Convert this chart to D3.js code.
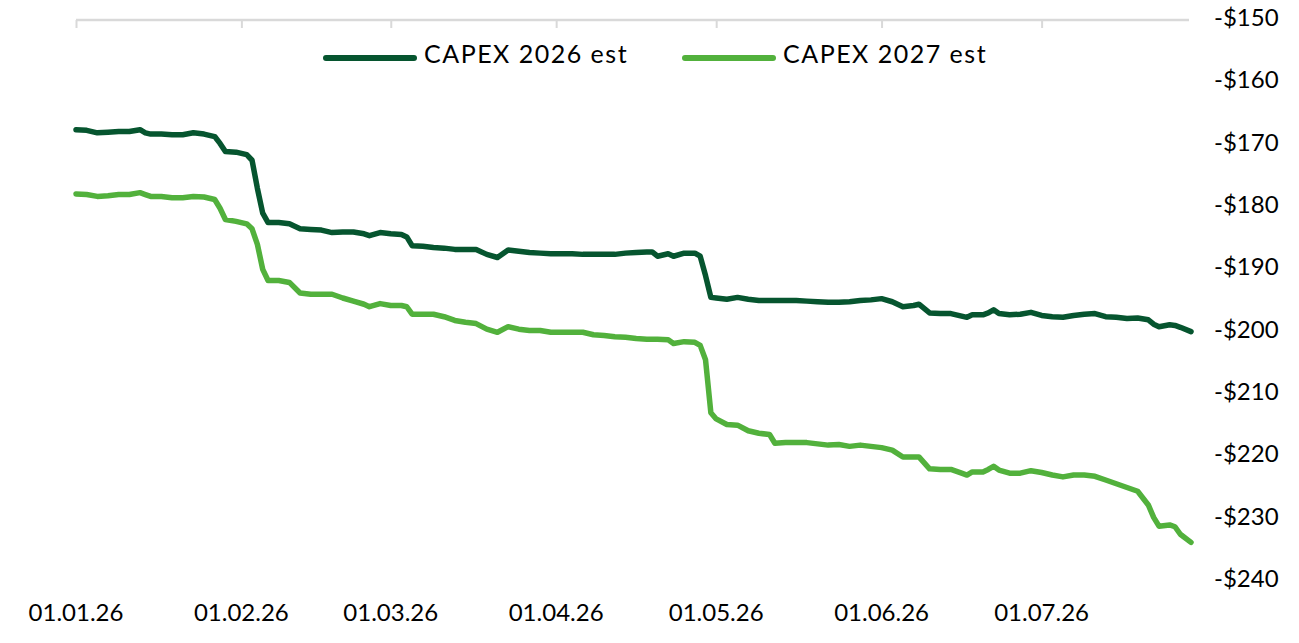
<!DOCTYPE html>
<html>
<head>
<meta charset="utf-8">
<script src="https://cdn.jsdelivr.net/npm/d3@7"></script>
<style>
  html, body { margin: 0; padding: 0; background: #ffffff; }
  svg text { font-family: Lato, "Open Sans", sans-serif; fill: #000000; }
</style>
</head>
<body>
<div id="vis"></div>
<script>
// Dates of the readings (2026, day.month)
const DATES = ["01-01","01-03","01-05","01-07","01-09","01-11","01-13","01-14","01-15","01-17",
  "01-19","01-21","01-23","01-25","01-27","01-28","01-29","01-31","02-02","02-03",
  "02-04","02-05","02-06","02-08","02-10","02-12","02-14","02-16","02-18","02-20",
  "02-22","02-24","02-25","02-27","03-01","03-03","03-04","03-05","03-07","03-09",
  "03-11","03-13","03-15","03-17","03-19","03-21","03-23","03-25","03-27","03-29",
  "03-31","04-02","04-04","04-06","04-08","04-10","04-12","04-14","04-16","04-18",
  "04-19","04-20","04-22","04-23","04-25","04-27","04-28","04-29","04-30","05-01",
  "05-03","05-05","05-07","05-09","05-11","05-12","05-14","05-16","05-18","05-20",
  "05-22","05-24","05-26","05-28","05-30","06-01","06-03","06-05","06-07","06-08",
  "06-10","06-12","06-14","06-16","06-17","06-18","06-20","06-21","06-22","06-23",
  "06-25","06-27","06-29","07-01","07-03","07-05","07-07","07-09","07-11","07-13",
  "07-15","07-17","07-19","07-21","07-22","07-23","07-25","07-26","07-27","07-29"];

// CAPEX 2026 estimate
const CAPEX_2026 = [-167.6,-167.7,-168.1,-168.0,-167.9,-167.9,-167.6,-168.1,-168.3,-168.3,
  -168.4,-168.4,-168.1,-168.3,-168.7,-169.8,-171.1,-171.2,-171.6,-172.5,
  -177.0,-181.0,-182.5,-182.5,-182.7,-183.5,-183.6,-183.7,-184.1,-184.0,
  -184.0,-184.3,-184.6,-184.1,-184.3,-184.4,-184.8,-186.2,-186.3,-186.5,
  -186.6,-186.8,-186.8,-186.8,-187.6,-188.1,-186.9,-187.1,-187.3,-187.4,
  -187.5,-187.5,-187.5,-187.6,-187.6,-187.6,-187.6,-187.4,-187.3,-187.2,
  -187.2,-187.9,-187.5,-187.9,-187.4,-187.4,-187.9,-191.0,-194.5,-194.6,
  -194.8,-194.5,-194.8,-195.0,-195.0,-195.0,-195.0,-195.0,-195.1,-195.2,
  -195.3,-195.3,-195.2,-195.0,-194.9,-194.7,-195.2,-196.0,-195.8,-195.6,
  -197.0,-197.1,-197.1,-197.5,-197.7,-197.3,-197.3,-197.0,-196.5,-197.1,
  -197.3,-197.2,-196.9,-197.4,-197.6,-197.7,-197.4,-197.2,-197.1,-197.6,
  -197.7,-197.9,-197.8,-198.1,-198.8,-199.2,-198.9,-199.0,-199.3,-200.0];

// CAPEX 2027 estimate
const CAPEX_2027 = [-177.9,-178.0,-178.3,-178.2,-178.0,-178.0,-177.7,-178.0,-178.3,-178.3,
  -178.5,-178.5,-178.3,-178.4,-178.8,-180.2,-182.0,-182.3,-182.7,-183.5,
  -186.0,-190.0,-191.8,-191.8,-192.1,-193.8,-194.0,-194.0,-194.0,-194.6,
  -195.1,-195.6,-196.0,-195.5,-195.8,-195.8,-196.0,-197.2,-197.2,-197.2,
  -197.6,-198.2,-198.5,-198.7,-199.6,-200.1,-199.2,-199.6,-199.8,-199.8,
  -200.1,-200.1,-200.1,-200.1,-200.5,-200.6,-200.8,-200.9,-201.1,-201.2,
  -201.2,-201.2,-201.3,-201.9,-201.6,-201.7,-202.2,-204.5,-213.0,-214.0,
  -214.9,-215.0,-215.9,-216.3,-216.5,-217.9,-217.8,-217.8,-217.8,-218.0,
  -218.2,-218.1,-218.4,-218.2,-218.4,-218.6,-219.0,-220.1,-220.1,-220.1,
  -222.0,-222.1,-222.1,-222.7,-223.0,-222.5,-222.5,-222.1,-221.6,-222.2,
  -222.7,-222.7,-222.3,-222.6,-223.0,-223.3,-223.0,-223.0,-223.2,-223.8,
  -224.4,-225.0,-225.6,-227.8,-229.8,-231.2,-231.0,-231.3,-232.5,-233.8];

// Axis ticks and legend
const X_TICKS = ["01-01","02-01","03-01","04-01","05-01","06-01","07-01"];
const Y_TICKS = [-150,-160,-170,-180,-190,-200,-210,-220,-230,-240];
const SERIES_NAMES = ["CAPEX 2026 est", "CAPEX 2027 est"];
const SERIES_COLORS = ["#06552f", "#52b13c"];

// Frame and plot area
const FRAME_WIDTH = 1299;
const FRAME_HEIGHT = 643;
const PLOT = {left: 76, right: 1191, top: 20, bottom: 581};

const PARSE = d3.timeParse("%Y-%m-%d");
const toDate = (s) => PARSE("2026-" + s);
const FORMAT = d3.timeFormat("%d.%m.%y");

const FRAME = d3.select("#vis")
  .append("svg")
    .attr("width", FRAME_WIDTH)
    .attr("height", FRAME_HEIGHT);

// Scales
const X_SCALE = d3.scaleTime()
  .domain([toDate("01-01"), toDate("07-29")])
  .range([PLOT.left, PLOT.right]);

const Y_SCALE = d3.scaleLinear()
  .domain([-150, -240])
  .range([PLOT.top, PLOT.bottom]);

// Top axis line with small ticks at month starts
const X_AXIS = FRAME.append("g")
  .attr("transform", "translate(0," + PLOT.top + ")")
  .call(d3.axisBottom(X_SCALE)
    .tickValues(X_TICKS.map(toDate))
    .tickSize(8)
    .tickSizeOuter(0)
    .tickFormat(""));
X_AXIS.select(".domain")
  .attr("d", "M" + PLOT.left + ",0H" + (PLOT.right - 2))
  .attr("stroke", "#d9d9d9")
  .attr("stroke-width", 2.5);
X_AXIS.selectAll(".tick line")
  .attr("stroke", "#d9d9d9")
  .attr("stroke-width", 2);

// Date labels along the bottom
FRAME.append("g")
  .selectAll("text")
  .data(X_TICKS)
  .enter()
  .append("text")
    .attr("x", (d) => X_SCALE(toDate(d)))
    .attr("y", 615)
    .attr("text-anchor", "middle")
    .attr("dominant-baseline", "middle")
    .style("font-size", "24px")
    .text((d) => FORMAT(toDate(d)));

// Value labels on the right
FRAME.append("g")
  .selectAll("text")
  .data(Y_TICKS)
  .enter()
  .append("text")
    .attr("x", 1214)
    .attr("y", (d) => Y_SCALE(d))
    .attr("dominant-baseline", "middle")
    .style("font-size", "24px")
    .text((d) => "-$" + Math.abs(d));

// Lines
const SERIES = [CAPEX_2026, CAPEX_2027];
const LINE = d3.line()
  .x((d) => X_SCALE(d.date))
  .y((d) => Y_SCALE(d.value));

SERIES.forEach((values, i) => {
  const points = DATES.map((s, j) => ({date: toDate(s), value: values[j]}));
  FRAME.append("path")
    .datum(points)
    .attr("d", LINE)
    .attr("fill", "none")
    .attr("stroke", SERIES_COLORS[i])
    .attr("stroke-width", 5.5)
    .attr("stroke-linejoin", "round")
    .attr("stroke-linecap", "round");
});

// Legend
const LEGEND_X = [326, 685];
SERIES_NAMES.forEach((name, i) => {
  FRAME.append("line")
    .attr("x1", LEGEND_X[i])
    .attr("x2", LEGEND_X[i] + 88)
    .attr("y1", 58)
    .attr("y2", 58)
    .attr("stroke", SERIES_COLORS[i])
    .attr("stroke-width", 6)
    .attr("stroke-linecap", "round");
  FRAME.append("text")
    .attr("x", LEGEND_X[i] + 98)
    .attr("y", 57)
    .attr("dominant-baseline", "middle")
    .style("font-size", "25px")
    .style("letter-spacing", "1.5px")
    .text(name);
});
</script>
</body>
</html>
